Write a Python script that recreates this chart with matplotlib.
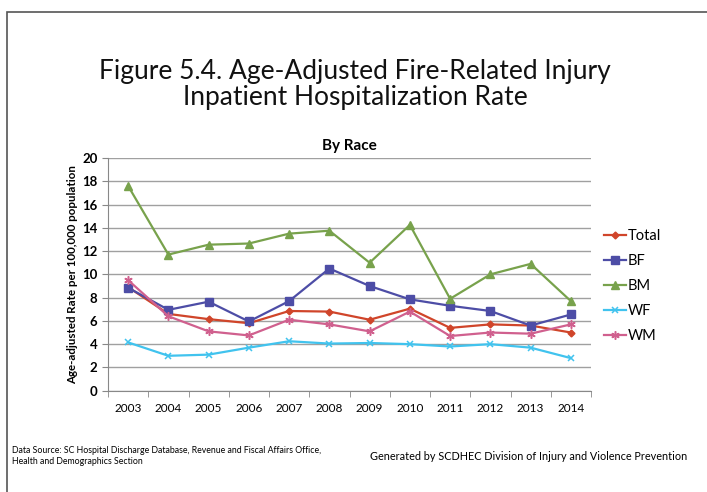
#Figure 5.4 - fire related injury hospitalization rate by race
import matplotlib
matplotlib.use("Agg")
import matplotlib.pyplot as plt
from matplotlib.patches import Rectangle
import numpy as np

years = ["2003", "2004", "2005", "2006", "2007", "2008",
         "2009", "2010", "2011", "2012", "2013", "2014"]

total = [8.9, 6.6, 6.15, 5.8, 6.85, 6.8, 6.1, 7.05, 5.4, 5.7, 5.6, 5.0]
bf = [8.85, 6.95, 7.65, 5.95, 7.7, 10.5, 9.0, 7.85, 7.3, 6.85, 5.6, 6.55]
bm = [17.6, 11.7, 12.55, 12.65, 13.5, 13.75, 11.0, 14.25, 7.9, 10.0, 10.9, 7.7]
wf = [4.15, 3.0, 3.1, 3.7, 4.25, 4.05, 4.1, 4.0, 3.8, 4.0, 3.7, 2.8]
wm = [9.5, 6.4, 5.1, 4.75, 6.1, 5.7, 5.1, 6.8, 4.7, 5.0, 4.9, 5.7]

plt.rcParams['font.family'] = ['Lato', 'DejaVu Sans']

fig = plt.figure(figsize=(7.07, 4.92), dpi=100)

#outer frame of the slide
fig.patches.append(Rectangle((7/707, -0.1), 1.0, 1 - 12/492 + 0.1,
                             transform=fig.transFigure, fill=False,
                             edgecolor="#555555", linewidth=1.2))

fig.text(0.502, 1 - 71/492, "Figure 5.4. Age-Adjusted Fire-Related Injury",
         ha="center", va="center", fontsize=19, color="#111111")
fig.text(0.502, 1 - 97/492, "Inpatient Hospitalization Rate",
         ha="center", va="center", fontsize=19, color="#111111")

ax = fig.add_axes([108/707, 1 - 390.7/492, (591 - 108)/707, (390.7 - 158)/492])
x = np.arange(len(years))

ax.plot(x, total, color="#D0452A", marker="D", markersize=3.5, linewidth=1.6, label="Total")
ax.plot(x, bf, color="#4D4DA6", marker="s", markersize=5.5, linewidth=1.6, label="BF")
ax.plot(x, bm, color="#78A24C", marker="^", markersize=5.5, linewidth=1.6, label="BM")
ax.plot(x, wf, color="#41C3EE", marker="x", markersize=5, markeredgewidth=1.1, linewidth=1.6, label="WF")
ax.plot(x, wm, color="#D0608E", marker=(6, 2, 0), markersize=6, markeredgewidth=1.1, linewidth=1.6, label="WM")

ax.set_xlim(-0.5, len(years) - 0.5)
ax.set_ylim(0, 20)
ax.set_yticks(range(0, 21, 2))
ax.set_xticks(x)
ax.set_xticklabels(years, fontsize=8.5)
ax.set_xticks(np.arange(-0.5, len(years)), minor=True)
ax.tick_params(axis="x", which="major", length=0, pad=9)
ax.tick_params(axis="x", which="minor", length=4, color="#888888")
ax.tick_params(axis="y", length=4, color="#888888", labelsize=9.5)
for lab in ax.get_yticklabels():
    lab.set_fontweight("bold")

ax.grid(axis="y", color="#A0A0A0", linewidth=1)
ax.set_axisbelow(True)
for side in ["top", "right"]:
    ax.spines[side].set_visible(False)
ax.spines["left"].set_color("#888888")
ax.spines["bottom"].set_color("#888888")

ax.set_ylabel("Age-adjusted Rate per 100,000 population", fontsize=8.3,
              fontweight="bold", labelpad=3)
ax.set_title("By Race", fontsize=11, fontweight="bold", pad=6)

ax.legend(loc="center left", bbox_to_anchor=(1.0, 0.45), frameon=False,
          fontsize=10.5, handlelength=1.5, handletextpad=0.1, labelspacing=0.75)

fig.text(12/707, 1 - 456/492,
         "Data Source: SC Hospital Discharge Database, Revenue and Fiscal Affairs Office,\nHealth and Demographics Section",
         ha="left", va="center", fontsize=6.3, linespacing=1.3)
fig.text(370/707, 1 - 457/492,
         "Generated by SCDHEC Division of Injury and Violence Prevention",
         ha="left", va="center", fontsize=7.8)

plt.savefig("out.png", dpi=100)
